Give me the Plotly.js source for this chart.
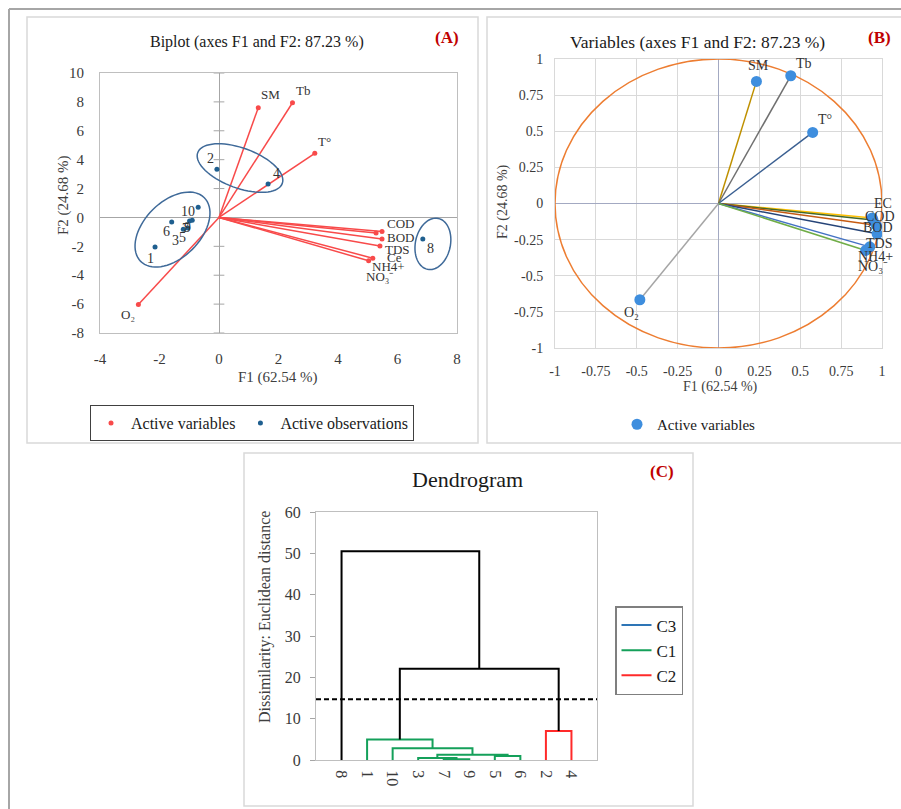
<!DOCTYPE html>
<html><head><meta charset="utf-8">
<script src="https://cdn.plot.ly/plotly-3.0.1.min.js"></script>
<style>html,body{margin:0;padding:0;background:#fff;} #chart{width:901px;height:809px;}</style>
</head><body><div id="chart"></div>
<script>
// ---------------- Panel A : biplot ----------------
const varLabelsA = ['SM','Tb','T°','COD','Ce','BOD','TDS','NH4+','NO₃⁻','O₂'];
const varF1A = [1.32, 2.47, 3.22, 5.48, 5.28, 5.48, 5.41, 5.17, 5.03, -2.71];
const varF2A = [7.60, 7.94, 4.44, -0.98, -1.08, -1.49, -1.98, -2.82, -3.00, -6.02];
const obsLabelsA = ['1','2','3','4','5','6','7','8','9','10'];
const obsF1A = [-2.15, -0.07, -1.20, 1.65, -1.05, -1.59, -0.99, 6.85, -0.90, -0.70];
const obsF2A = [-2.05, 3.33, -0.82, 2.31, -0.73, -0.32, -0.25, -1.50, -0.20, 0.70];
const ticksAx = [-4,-2,0,2,4,6,8];
const ticksAy = [-8,-6,-4,-2,0,2,4,6,8,10];

// ---------------- Panel B : correlation circle ----------------
const varLabelsB = ['SM','Tb','T°','EC','COD','BOD','TDS','NH4+','NO₃⁻','O₂'];
const varF1B = [0.232, 0.442, 0.576, 0.940, 0.945, 0.965, 0.970, 0.925, 0.900, -0.481];
const varF2B = [0.845, 0.884, 0.492, -0.100, -0.115, -0.150, -0.210, -0.300, -0.325, -0.666];
const ticksB = [-1,-0.75,-0.5,-0.25,0,0.25,0.5,0.75,1];

// ---------------- Panel C : dendrogram ----------------
const leafOrder = ['8','1','10','3','7','9','5','6','2','4'];
const mergeLeft   = ['7','3','5','m1','10','1','2','m5','8'];
const mergeRight  = ['9','m0','6','m2','m3','m4','4','m6','m7'];
const mergeHeight = [0.2, 0.5, 0.95, 1.3, 2.85, 4.95, 7.0, 22.1, 50.5];
const mergeCluster = ['C1','C1','C1','C1','C1','C1','C2','none','none'];
const cutHeight = 14.7;
const ticksC = [0,10,20,30,40,50,60];

// ---------------- styles ----------------
const W = 901, H = 809;
const px = v => v / W, py = v => 1 - v / H;
const FONT = '"Liberation Serif", "Times New Roman", serif';
const TICKC = '#3a3a3a';
const RED = '#F84A4A', OBS = '#1F5F8F', PTB = '#3E8EDE';
const lineColorsB = ['#BF9000','#707070','#3A5F91','#FFC000','#43682B','#C55A11','#264478','#4472C4','#70AD47','#A5A5A5'];
const labOffA = [[12,-13],[11,-12],[10,-12],[18,-8],[18,24],[18,-1],[18,3],[16,8],[11,16],[-10,10]];
const obsOffA = [[-5,11],[-6,-11],[-8,11],[8,-11],[-5,10],[-5,9],[-4,7],[8,9],[-5,7],[-10,4]];
const labOffB = [[2,-16],[13,-12],[12,-13],[11,-14],[7,-4],[2,2],[2,10],[6,10],[7,16],[-8,13]];
const clusterColor = {C1:'#14A05A', C2:'#FF2A2A', C3:'#2E75B6', none:'#000000'};

const traces = [];
// A: variable vectors
const lx = [], ly = [];
varF1A.forEach((v,i)=>{ lx.push(0, v, null); ly.push(0, varF2A[i], null); });
traces.push({x:lx, y:ly, mode:'lines', line:{color:RED, width:1.5}, showlegend:false, hoverinfo:'skip', xaxis:'x', yaxis:'y'});
traces.push({x:varF1A, y:varF2A, mode:'markers', marker:{color:RED, size:5}, name:'Active variables', legend:'legend', xaxis:'x', yaxis:'y'});
traces.push({x:obsF1A, y:obsF2A, mode:'markers', marker:{color:OBS, size:5}, name:'Active observations', legend:'legend', xaxis:'x', yaxis:'y'});

// B: vectors
varF1B.forEach((v,i)=>{
  traces.push({x:[0, v], y:[0, varF2B[i]], mode:'lines', line:{color:lineColorsB[i], width:1.5}, showlegend:false, hoverinfo:'skip', xaxis:'x2', yaxis:'y2'});
});
traces.push({x:varF1B, y:varF2B, mode:'markers', marker:{color:PTB, size:11}, name:'Active variables', legend:'legend2', xaxis:'x2', yaxis:'y2'});

// C: dendrogram
const pos = {}, hgt = {};
leafOrder.forEach((n,i)=>{ pos[n] = i + 1; hgt[n] = 0; });
const segs = {C1:{x:[],y:[]}, C2:{x:[],y:[]}, none:{x:[],y:[]}};
mergeHeight.forEach((h,i)=>{
  const L = mergeLeft[i], R = mergeRight[i], s = segs[mergeCluster[i]];
  s.x.push(pos[L], pos[L], pos[R], pos[R], null);
  s.y.push(hgt[L], h, h, hgt[R], null);
  pos['m'+i] = (pos[L] + pos[R]) / 2; hgt['m'+i] = h;
});
traces.push({x:[null], y:[null], mode:'lines', line:{color:clusterColor.C3, width:2}, name:'C3', legend:'legend3', xaxis:'x3', yaxis:'y3'});
traces.push({x:segs.C1.x, y:segs.C1.y, mode:'lines', line:{color:clusterColor.C1, width:2}, name:'C1', legend:'legend3', xaxis:'x3', yaxis:'y3', hoverinfo:'skip'});
traces.push({x:segs.C2.x, y:segs.C2.y, mode:'lines', line:{color:clusterColor.C2, width:2}, name:'C2', legend:'legend3', xaxis:'x3', yaxis:'y3', hoverinfo:'skip'});
traces.push({x:segs.none.x, y:segs.none.y, mode:'lines', line:{color:'#000', width:2}, showlegend:false, xaxis:'x3', yaxis:'y3', hoverinfo:'skip'});

// ---------------- annotations ----------------
const ann = [];
const paperText = (x, y, text, size, extra) => ann.push(Object.assign({xref:'paper', yref:'paper', x:px(x), y:py(y), text:text, showarrow:false, xanchor:'center', yanchor:'middle', font:{family:FONT, size:size, color:'#1a1a1a'}}, extra||{}));
paperText(257, 42, 'Biplot (axes F1 and F2: 87.23 %)', 16);
paperText(447, 37, '<b>(A)</b>', 17, {font:{family:FONT, size:17, color:'#C00000'}});
paperText(697, 42, 'Variables (axes F1 and F2: 87.23 %)', 17.5);
paperText(879, 37, '<b>(B)</b>', 17, {font:{family:FONT, size:17, color:'#C00000'}});
paperText(467, 479, 'Dendrogram', 22);
paperText(662, 471, '<b>(C)</b>', 17, {font:{family:FONT, size:17, color:'#C00000'}});
paperText(278, 377, 'F1 (62.54 %)', 15, {font:{family:FONT, size:15, color:'#404040'}});
paperText(63, 195, 'F2 (24.68 %)', 15, {textangle:-90, font:{family:FONT, size:15, color:'#404040'}});
paperText(720, 387, 'F1 (62.54 %)', 14, {font:{family:FONT, size:14, color:'#404040'}});
paperText(503, 202, 'F2 (24.68 %)', 14, {textangle:-90, font:{family:FONT, size:14, color:'#404040'}});
paperText(265, 617, 'Dissimilarity: Euclidean distance', 16, {textangle:-90, font:{family:FONT, size:16, color:'#404040'}});

const ptLabel = (xr, yr, x, y, text, off, size) => ann.push({xref:xr, yref:yr, x:x, y:y, text:text, showarrow:false, xanchor:'center', yanchor:'middle', xshift:off[0], yshift:-off[1], font:{family:FONT, size:size, color:'#333'}});
varLabelsA.forEach((t,i)=>ptLabel('x','y', varF1A[i], varF2A[i], t, labOffA[i], 13));
obsLabelsA.forEach((t,i)=>ptLabel('x','y', obsF1A[i], obsF2A[i], t, obsOffA[i], 14));
varLabelsB.forEach((t,i)=>ptLabel('x2','y2', varF1B[i], varF2B[i], t, labOffB[i], 14));

// ---------------- shapes ----------------
const shapes = [];
const rectP = (x0,y0,x1,y1,color,w) => shapes.push({type:'rect', xref:'paper', yref:'paper', x0:px(x0), x1:px(x1), y0:py(y1), y1:py(y0), line:{color:color, width:w}, fillcolor:'rgba(0,0,0,0)', layer:'below'});
shapes.push({type:'line', xref:'paper', yref:'paper', x0:px(9), x1:px(9), y0:py(9), y1:py(820), line:{color:'#A6A6A6', width:2}, layer:'below'});
shapes.push({type:'line', xref:'paper', yref:'paper', x0:px(9), x1:px(910), y0:py(9), y1:py(9), line:{color:'#A6A6A6', width:2}, layer:'below'});
rectP(27,17,478,443,'#D9D9D9',1.5);
rectP(487,17,915,443,'#D9D9D9',1.5);
rectP(244,453,693,806,'#D9D9D9',1.5);

// tick marks on vertical zero line of panel A
ticksAy.forEach(v=>{ if(v!==0) shapes.push({type:'line', xref:'x', yref:'y', x0:-0.18, x1:0.18, y0:v, y1:v, line:{color:'#A6A6A6', width:1}, layer:'between'}); });

// group ellipses (panel A), defined in screen pixels: center(data), semi-axes(px), angle(deg)
const pxPerX = 357/12, pxPerY = 260/18;
const ellipses = [
  {cx:-1.563, cy:-0.838, a:45, b:28, ang:45},
  {cx:0.706, cy:3.42, a:45, b:20, ang:-20},
  {cx:7.19, cy:-1.83, a:26, b:17.5, ang:78}
];
ellipses.forEach(e=>{
  const th = e.ang*Math.PI/180; let d='';
  for(let k=0;k<=72;k++){
    const t = 2*Math.PI*k/72;
    const dx = e.a*Math.cos(t)*Math.cos(th) - e.b*Math.sin(t)*Math.sin(th);
    const dy = e.a*Math.cos(t)*Math.sin(th) + e.b*Math.sin(t)*Math.cos(th);
    d += (k===0?'M':'L') + (e.cx + dx/pxPerX).toFixed(4) + ',' + (e.cy + dy/pxPerY).toFixed(4);
  }
  shapes.push({type:'path', xref:'x', yref:'y', path:d+'Z', line:{color:'#3F6A99', width:1.5}, layer:'above'});
});

// correlation circle
shapes.push({type:'circle', xref:'x2', yref:'y2', x0:-1, x1:1, y0:-1, y1:1, line:{color:'#ED7D31', width:1.5}, layer:'between'});
// cut line in dendrogram
shapes.push({type:'line', xref:'x3 domain', yref:'y3', x0:0, x1:1, y0:cutHeight, y1:cutHeight, line:{color:'#000', width:2, dash:'5px,3px'}, layer:'above'});

const axBase = {showgrid:false, zeroline:false, ticks:'', tickfont:{family:FONT, size:15, color:TICKC}, showline:true, mirror:true, linecolor:'#BFBFBF', linewidth:1, fixedrange:true};

const layout = {
  width:W, height:H, margin:{l:0,r:0,t:0,b:0}, paper_bgcolor:'#fff', plot_bgcolor:'rgba(0,0,0,0)',
  font:{family:FONT, size:15, color:TICKC}, showlegend:true,
  xaxis:Object.assign({}, axBase, {domain:[px(100),px(457)], range:[-4,8], tickvals:ticksAx, ticktext:ticksAx.map(String), zeroline:true, zerolinecolor:'#A6A6A6', zerolinewidth:1, anchor:'y', ticklabelstandoff:12}),
  yaxis:Object.assign({}, axBase, {domain:[py(333),py(73)], range:[-8,10], tickvals:ticksAy, ticktext:ticksAy.map(String), zeroline:true, zerolinecolor:'#A6A6A6', zerolinewidth:1, anchor:'x', ticklabelstandoff:12}),
  xaxis2:Object.assign({}, axBase, {domain:[px(555),px(882)], range:[-1,1], tickvals:ticksB, ticktext:ticksB.map(String), showgrid:true, gridcolor:'#D9D9D9', gridwidth:1, zeroline:true, zerolinecolor:'#A3A9C2', zerolinewidth:1.5, linecolor:'#D9D9D9', anchor:'y2', tickfont:{family:FONT, size:14, color:TICKC}, ticklabelstandoff:10}),
  yaxis2:Object.assign({}, axBase, {domain:[py(348),py(59)], range:[-1,1], tickvals:ticksB, ticktext:ticksB.map(String), showgrid:true, gridcolor:'#D9D9D9', gridwidth:1, zeroline:true, zerolinecolor:'#A3A9C2', zerolinewidth:1.5, linecolor:'#D9D9D9', anchor:'x2', tickfont:{family:FONT, size:14, color:TICKC}, ticklabelstandoff:8}),
  xaxis3:Object.assign({}, axBase, {domain:[px(316),px(597)], range:[0,11], tickvals:leafOrder.map((n,i)=>i+1), ticktext:leafOrder, tickangle:90, anchor:'y3', tickfont:{family:FONT, size:16, color:TICKC}, ticklabelstandoff:6}),
  yaxis3:Object.assign({}, axBase, {domain:[py(760),py(512)], range:[0,60], tickvals:ticksC, ticktext:ticksC.map(String), ticks:'outside', ticklen:5, tickcolor:'#A6A6A6', anchor:'x3', tickfont:{family:FONT, size:16, color:TICKC}, ticklabelstandoff:6}),
  legend:{x:px(90), y:py(405), xanchor:'left', yanchor:'top', orientation:'h', bordercolor:'#404040', borderwidth:1, bgcolor:'#fff', font:{family:FONT, size:16, color:'#1a1a1a'}, itemwidth:30},
  legend2:{x:px(617), y:py(408), xanchor:'left', yanchor:'top', orientation:'h', borderwidth:0, bgcolor:'rgba(0,0,0,0)', font:{family:FONT, size:15, color:'#1a1a1a'}, itemwidth:30},
  legend3:{x:px(615), y:py(606), xanchor:'left', yanchor:'top', orientation:'v', bordercolor:'#7F7F7F', borderwidth:1.5, bgcolor:'#fff', font:{family:FONT, size:17, color:'#1a1a1a'}, itemwidth:30},
  annotations:ann, shapes:shapes, hovermode:false
};

Plotly.newPlot('chart', traces, layout, {staticPlot:true, displayModeBar:false});
</script></body></html>
